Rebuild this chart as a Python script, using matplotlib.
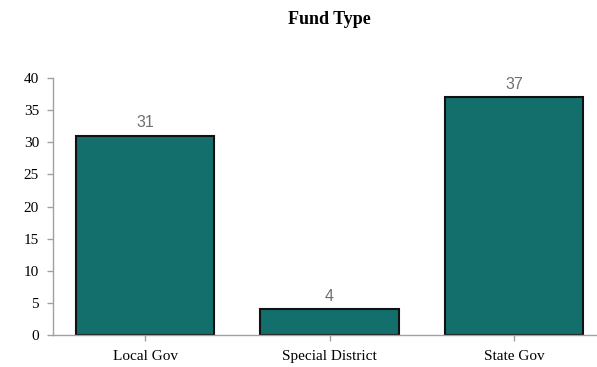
import matplotlib.pyplot as plt

# Data
categories = ["Local Gov", "Special District", "State Gov"]
counts = [31, 4, 37]
y_ticks = [0, 5, 10, 15, 20, 25, 30, 35, 40]

bar_color = "#136f6c"
axis_gray = "#a0a0a0"

fig = plt.figure(figsize=(5.97, 3.67), dpi=100)
# the plot area runs a little past the right edge of the image, as in the reference
left, right, bottom, top = 53, 606, 335, 78
ax = fig.add_axes([left / 597, 1 - bottom / 367, (right - left) / 597, (bottom - top) / 367])

x = range(len(categories))
bars = ax.bar(x, counts, width=0.75, color=bar_color, edgecolor="#111111", linewidth=1.5)

# value labels above the bars
for rect, val in zip(bars, counts):
    ax.annotate(str(val), (rect.get_x() + rect.get_width() / 2, rect.get_height()),
                xytext=(0, 4), textcoords="offset points", ha="center", va="bottom",
                fontsize=11.5, color="#707070", family="Liberation Sans")

ax.set_xlim(-0.5, 2.5)
ax.set_ylim(0, 40)
ax.set_xticks(list(x))
ax.set_xticklabels(categories, family="Liberation Serif", fontsize=11)
ax.set_yticks(y_ticks)
ax.set_yticklabels([str(t) for t in y_ticks], family="Liberation Serif", fontsize=11)

for side in ["top", "right"]:
    ax.spines[side].set_visible(False)
for side in ["left", "bottom"]:
    ax.spines[side].set_color(axis_gray)
    ax.spines[side].set_linewidth(1.0)

ax.tick_params(axis="both", color=axis_gray, length=4, width=1.0, pad=6)
ax.tick_params(axis="x", pad=7)

# title centred over the plot area
fig.text((left + right) / 2 / 597, 1 - 19 / 367, "Fund Type", ha="center", va="center",
         fontsize=13, fontweight="bold", family="Liberation Serif")

fig.savefig("out.png", dpi=100)
